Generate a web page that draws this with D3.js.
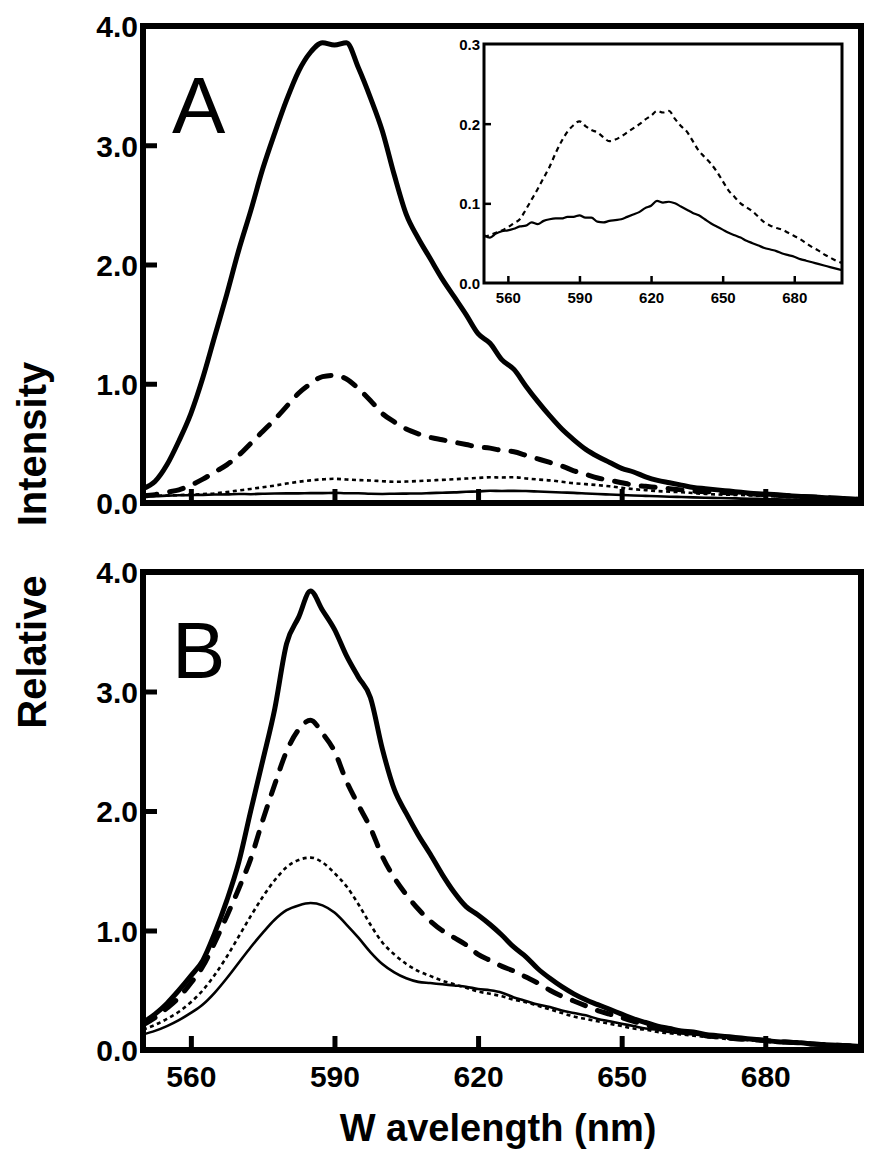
<!DOCTYPE html>
<html>
<head>
<meta charset="utf-8">
<script src="https://cdn.jsdelivr.net/npm/d3@7"></script>
<style>
  html, body { margin: 0; padding: 0; background: #fff; }
  svg { display: block; }
  text { font-family: "Liberation Sans", Arial, sans-serif; fill: #000; }
</style>
</head>
<body>
<svg id="chart" width="878" height="1169"></svg>
<script>
// ---------------- DATA ----------------
const wavelengths = [550,552.5,555,557.5,560,562.5,565,567.5,570,572.5,575,577.5,580,582.5,585,587.5,590,592.5,595,597.5,600,602.5,605,607.5,610,612.5,615,617.5,620,622.5,625,627.5,630,632.5,635,637.5,640,642.5,645,647.5,650,652.5,655,657.5,660,662.5,665,667.5,670,672.5,675,677.5,680,682.5,685,687.5,690,692.5,695,697.5,700];

// Panel A
const A_thickSolid = [0.12,0.18,0.32,0.52,0.75,1.05,1.40,1.75,2.12,2.45,2.80,3.10,3.38,3.62,3.78,3.86,3.84,3.86,3.65,3.40,3.12,2.75,2.42,2.22,2.05,1.88,1.73,1.58,1.42,1.34,1.20,1.12,0.98,0.85,0.73,0.62,0.53,0.45,0.39,0.34,0.29,0.26,0.22,0.19,0.17,0.15,0.13,0.12,0.11,0.10,0.09,0.08,0.075,0.07,0.06,0.055,0.05,0.045,0.04,0.035,0.03];
const A_thickDashed = [0.06,0.07,0.09,0.11,0.15,0.20,0.26,0.32,0.40,0.50,0.60,0.70,0.81,0.92,1.00,1.06,1.07,1.04,0.96,0.86,0.75,0.68,0.62,0.58,0.55,0.53,0.51,0.49,0.47,0.46,0.44,0.43,0.40,0.37,0.34,0.31,0.27,0.24,0.21,0.19,0.17,0.15,0.14,0.13,0.12,0.11,0.10,0.095,0.09,0.085,0.08,0.075,0.07,0.065,0.06,0.055,0.05,0.045,0.04,0.035,0.03];
const A_thinDotted = [0.058,0.060,0.063,0.066,0.070,0.075,0.080,0.092,0.105,0.118,0.132,0.146,0.163,0.178,0.190,0.198,0.203,0.197,0.192,0.189,0.183,0.178,0.180,0.184,0.189,0.194,0.199,0.205,0.210,0.216,0.214,0.216,0.206,0.197,0.190,0.178,0.166,0.158,0.150,0.140,0.128,0.116,0.108,0.100,0.095,0.090,0.083,0.076,0.072,0.069,0.067,0.063,0.059,0.055,0.050,0.045,0.041,0.036,0.032,0.028,0.025];
const A_thinSolid = [0.060,0.057,0.062,0.065,0.066,0.068,0.071,0.072,0.076,0.074,0.078,0.080,0.081,0.081,0.083,0.083,0.085,0.082,0.082,0.077,0.076,0.078,0.079,0.080,0.083,0.086,0.089,0.094,0.097,0.103,0.101,0.102,0.100,0.096,0.092,0.088,0.085,0.080,0.075,0.071,0.067,0.063,0.060,0.057,0.053,0.050,0.047,0.044,0.042,0.040,0.037,0.035,0.033,0.030,0.028,0.026,0.024,0.022,0.020,0.018,0.016];

// Panel B
const B_thickSolid = [0.23,0.30,0.39,0.50,0.62,0.75,0.98,1.25,1.57,2.00,2.42,2.85,3.40,3.62,3.84,3.68,3.52,3.30,3.12,2.95,2.52,2.18,1.98,1.80,1.64,1.47,1.32,1.20,1.13,1.05,0.96,0.86,0.78,0.68,0.60,0.53,0.47,0.42,0.38,0.34,0.30,0.26,0.23,0.20,0.18,0.16,0.15,0.13,0.12,0.11,0.10,0.09,0.08,0.07,0.065,0.06,0.05,0.045,0.04,0.035,0.03];
const B_thickDashed = [0.21,0.27,0.35,0.44,0.56,0.70,0.90,1.12,1.35,1.60,1.92,2.22,2.50,2.68,2.76,2.65,2.50,2.25,2.05,1.86,1.62,1.44,1.30,1.18,1.08,1.00,0.94,0.88,0.80,0.75,0.70,0.66,0.61,0.56,0.50,0.45,0.41,0.37,0.33,0.30,0.27,0.24,0.21,0.19,0.17,0.15,0.14,0.12,0.11,0.10,0.09,0.085,0.08,0.07,0.065,0.06,0.05,0.045,0.04,0.035,0.03];
const B_thinDotted = [0.17,0.21,0.26,0.32,0.40,0.50,0.63,0.78,0.95,1.12,1.28,1.42,1.53,1.59,1.61,1.57,1.48,1.37,1.22,1.05,0.90,0.80,0.72,0.66,0.62,0.58,0.55,0.52,0.49,0.47,0.45,0.42,0.40,0.37,0.34,0.31,0.28,0.26,0.24,0.22,0.20,0.18,0.17,0.15,0.14,0.13,0.12,0.11,0.10,0.09,0.085,0.08,0.07,0.065,0.06,0.055,0.05,0.045,0.04,0.035,0.03];
const B_thinSolid = [0.13,0.16,0.20,0.25,0.31,0.38,0.48,0.60,0.73,0.86,0.98,1.09,1.17,1.21,1.23,1.21,1.15,1.05,0.94,0.82,0.72,0.65,0.60,0.57,0.56,0.55,0.54,0.53,0.51,0.50,0.48,0.44,0.41,0.38,0.36,0.33,0.31,0.29,0.26,0.24,0.22,0.20,0.18,0.17,0.15,0.14,0.13,0.12,0.11,0.10,0.09,0.085,0.08,0.07,0.065,0.06,0.05,0.045,0.04,0.035,0.03];

// Axis ticks / labels
const xTicks = [560, 590, 620, 650, 680];
const yTicksMain = [0, 1, 2, 3, 4];
const yTicksInset = [0, 0.1, 0.2, 0.3];
const panelLetters = ["A", "B"];
const xTitle = "W avelength (nm)";
const yTitleParts = ["Relative", "Intensity"];

// ---------------- DRAW ----------------
const svg = d3.select("#chart");
const X0 = 143, X1 = 861;

const styles = {
  thickSolid:  { w: 5,   dash: null },
  thickDashed: { w: 5,   dash: "14,13", cap: "round" },
  thinDotted:  { w: 2.6, dash: "4,3.5" },
  thinSolid:   { w: 2.6, dash: null }
};

function drawPanel(id, top, bottom, series, letter, letterY, showXLabels) {
  const x = d3.scaleLinear().domain([550, 700]).range([X0, X1]);
  const y = d3.scaleLinear().domain([0, 4]).range([bottom, top]);
  const g = svg.append("g");

  g.append("clipPath").attr("id", "clip" + id)
    .append("rect").attr("x", X0).attr("y", top).attr("width", X1 - X0).attr("height", bottom - top);

  const line = d3.line().x((d, i) => x(wavelengths[i])).y(d => y(d)).curve(d3.curveMonotoneX);
  const lg = g.append("g").attr("clip-path", `url(#clip${id})`);
  series.forEach(s => {
    const st = styles[s.style];
    lg.append("path").datum(s.values)
      .attr("d", line).attr("fill", "none").attr("stroke", "#000")
      .attr("stroke-width", st.w)
      .attr("stroke-linejoin", "round")
      .attr("stroke-linecap", st.cap || "butt")
      .attr("stroke-dasharray", st.dash);
  });

  // Ticks inside
  const xAxis = d3.axisBottom(x).tickValues(xTicks).tickSizeInner(-14).tickSizeOuter(0)
    .tickFormat(showXLabels ? d3.format("d") : () => "");
  const xa = g.append("g").attr("transform", `translate(0,${bottom})`).call(xAxis);
  xa.select(".domain").remove();
  xa.selectAll(".tick line").attr("stroke", "#000").attr("stroke-width", 5);
  xa.selectAll(".tick text").attr("y", 16).attr("dy", "0.71em")
    .style("font-size", "30px").style("font-weight", "bold").attr("fill", "#000");

  const yAxis = d3.axisLeft(y).tickValues(yTicksMain).tickSizeInner(-14).tickSizeOuter(0)
    .tickFormat(d3.format(".1f"));
  const ya = g.append("g").attr("transform", `translate(${X0},0)`).call(yAxis);
  ya.select(".domain").remove();
  ya.selectAll(".tick line").attr("stroke", "#000").attr("stroke-width", 5)
    .attr("display", d => (d === 0 || d === 4) ? "none" : null);
  ya.selectAll(".tick text").attr("x", -5).attr("dy", "0.36em")
    .style("font-size", "30px").style("font-weight", "bold").attr("fill", "#000");

  // Frame
  g.append("rect").attr("x", X0).attr("y", top).attr("width", X1 - X0).attr("height", bottom - top)
    .attr("fill", "none").attr("stroke", "#000").attr("stroke-width", 6);

  g.append("text").attr("x", 172).attr("y", letterY).text(letter)
    .style("font-size", "80px");
  return { x, y, g };
}

drawPanel("A", 26, 503, [
  { values: A_thickSolid, style: "thickSolid" },
  { values: A_thickDashed, style: "thickDashed" },
  { values: A_thinDotted, style: "thinDotted" },
  { values: A_thinSolid, style: "thinSolid" }
], panelLetters[0], 133, false);

drawPanel("B", 572, 1050, [
  { values: B_thickSolid, style: "thickSolid" },
  { values: B_thickDashed, style: "thickDashed" },
  { values: B_thinDotted, style: "thinDotted" },
  { values: B_thinSolid, style: "thinSolid" }
], panelLetters[1], 678, true);

// ---------------- INSET ----------------
(function () {
  const L = 484, R = 842, T = 44, Bt = 283;
  const x = d3.scaleLinear().domain([550, 700]).range([L, R]);
  const y = d3.scaleLinear().domain([0, 0.3]).range([Bt, T]);
  const g = svg.append("g");
  g.append("rect").attr("x", L).attr("y", T).attr("width", R - L).attr("height", Bt - T).attr("fill", "#fff");
  g.append("clipPath").attr("id", "clipInset")
    .append("rect").attr("x", L).attr("y", T).attr("width", R - L).attr("height", Bt - T);
  const line = d3.line().x((d, i) => x(wavelengths[i])).y(d => y(d)).curve(d3.curveMonotoneX);
  const lg = g.append("g").attr("clip-path", "url(#clipInset)");
  lg.append("path").datum(A_thinDotted).attr("d", line).attr("fill", "none")
    .attr("stroke", "#000").attr("stroke-width", 2.2).attr("stroke-dasharray", "5,4");
  lg.append("path").datum(A_thinSolid).attr("d", line).attr("fill", "none")
    .attr("stroke", "#000").attr("stroke-width", 2.2).attr("stroke-linejoin", "round");

  const xa = g.append("g").attr("transform", `translate(0,${Bt})`)
    .call(d3.axisBottom(x).tickValues(xTicks).tickSizeInner(-7).tickSizeOuter(0).tickFormat(d3.format("d")));
  xa.select(".domain").remove();
  xa.selectAll(".tick line").attr("stroke", "#000").attr("stroke-width", 2.5);
  xa.selectAll(".tick text").attr("y", 9).attr("dy", "0.71em")
    .style("font-size", "15px").style("font-weight", "bold").attr("fill", "#000");

  const ya = g.append("g").attr("transform", `translate(${L},0)`)
    .call(d3.axisLeft(y).tickValues(yTicksInset).tickSizeInner(-7).tickSizeOuter(0).tickFormat(d3.format(".1f")));
  ya.select(".domain").remove();
  ya.selectAll(".tick line").attr("stroke", "#000").attr("stroke-width", 2.5)
    .attr("display", d => (d === 0 || d === 0.3) ? "none" : null);
  ya.selectAll(".tick text").attr("x", -4).attr("dy", "0.36em")
    .style("font-size", "15px").style("font-weight", "bold").attr("fill", "#000");

  g.append("rect").attr("x", L).attr("y", T).attr("width", R - L).attr("height", Bt - T)
    .attr("fill", "none").attr("stroke", "#000").attr("stroke-width", 3);
})();

// ---------------- TITLES ----------------
svg.append("text").attr("x", 498).attr("y", 1141).attr("text-anchor", "middle")
  .style("font-size", "38px").style("font-weight", "bold").style("white-space", "pre")
  .text(xTitle);

const yt = svg.append("g").attr("transform", "translate(46,542) rotate(-90)");
yt.append("text").attr("x", -110).attr("y", 0).attr("text-anchor", "middle")
  .style("font-size", "40px").style("font-weight", "bold").text(yTitleParts[0]);
yt.append("text").attr("x", 98).attr("y", 0).attr("text-anchor", "middle")
  .style("font-size", "40px").style("font-weight", "bold").text(yTitleParts[1]);
</script>
</body>
</html>
